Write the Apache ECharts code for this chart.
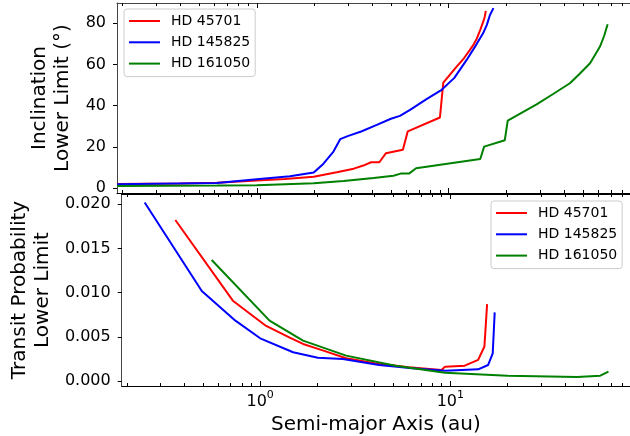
<!DOCTYPE html>
<html>
<head>
<meta charset="utf-8">
<script src="https://cdn.jsdelivr.net/npm/echarts@6/dist/echarts.min.js"></script>
<style>
  html, body { margin: 0; padding: 0; background: #fff; }
  #chart { width: 630px; height: 436px; }
</style>
</head>
<body>
<div id="chart"></div>
<script>
// Star names (legend / series names)
const starNames = ['HD 45701', 'HD 145825', 'HD 161050'];
const starColors = ['#ff0000', '#0000ff', '#008000'];

// Upper panel: inclination lower limit (deg) vs semi-major axis (au)
const inclA_45701 = [0.187, 0.4, 0.62, 1.0, 1.4, 1.98, 2.61, 3.2, 3.59, 3.94, 4.35, 4.71, 5.77, 6.12, 9.0, 9.37, 10.0, 11.0, 12.0, 12.9, 13.5, 14.0, 14.6, 15.1, 15.4, 15.6];
const inclV_45701 = [2.1, 2.3, 2.7, 3.7, 4.5, 5.6, 7.8, 9.5, 11.0, 12.6, 12.6, 17.0, 18.7, 27.6, 34.3, 51.2, 54.4, 59.0, 63.0, 67.1, 69.8, 72.5, 76.8, 80.5, 83.0, 86.0];
const inclA_145825 = [0.187, 0.62, 1.0, 1.49, 1.98, 2.22, 2.51, 2.72, 3.0, 3.5, 4.22, 5.0, 5.57, 6.29, 7.7, 9.19, 10.7, 12.4, 14.0, 15.1, 15.8, 16.4, 17.1];
const inclV_145825 = [2.0, 2.6, 4.4, 5.8, 7.6, 11.8, 17.8, 23.8, 25.4, 27.5, 30.7, 33.7, 35.1, 38.0, 43.3, 47.7, 53.5, 62.2, 70.0, 75.1, 79.2, 84.0, 87.3];
const inclA_161050 = [0.187, 0.62, 1.0, 1.98, 2.83, 4.06, 5.15, 5.62, 6.21, 6.76, 14.6, 15.3, 19.6, 20.3, 28.7, 35.0, 42.8, 48.0, 54.5, 61.4, 64.5, 67.3];
const inclV_161050 = [1.1, 1.3, 1.5, 2.4, 3.5, 5.0, 6.1, 7.1, 7.1, 9.7, 14.2, 20.2, 23.3, 32.8, 40.7, 45.7, 50.9, 55.4, 60.6, 68.7, 73.8, 79.5];

// Lower panel: transit probability lower limit vs semi-major axis (au)
const probA_45701 = [0.358, 0.718, 1.075, 1.43, 1.68, 2.15, 2.83, 4.0, 6.04, 9.0, 9.37, 11.9, 14.0, 15.1, 15.6];
const probV_45701 = [0.01823, 0.00909, 0.00623, 0.0049, 0.00419, 0.00343, 0.00257, 0.0020, 0.00155, 0.00125, 0.00162, 0.00173, 0.00238, 0.0039, 0.0087];
const probA_145825 = [0.247, 0.493, 0.741, 1.0, 1.49, 2.01, 2.72, 4.22, 6.3, 9.37, 14.0, 15.8, 16.7, 17.1];
const probV_145825 = [0.0202, 0.01019, 0.00683, 0.00483, 0.00325, 0.00264, 0.00249, 0.00181, 0.00145, 0.00117, 0.00132, 0.00181, 0.00313, 0.00777];
const probA_161050 = [0.556, 1.12, 1.68, 2.83, 5.15, 9.37, 20.0, 46.4, 61.4, 67.8];
const probV_161050 = [0.0137, 0.00683, 0.00457, 0.00287, 0.00173, 0.00094, 0.0006, 0.00045, 0.0006, 0.00105];

// Axis ticks
const xMajorTicks = [1, 10];
const xMinorTicks = [0.2, 0.3, 0.4, 0.5, 0.6, 0.7, 0.8, 0.9, 2, 3, 4, 5, 6, 7, 8, 9, 20, 30, 40, 50, 60, 70, 80];
const inclTicks = [0, 20, 40, 60, 80];
const probTicks = [0, 0.005, 0.010, 0.015, 0.020];

const X_MIN = 0.187, X_MAX = 88;
const FONT = 'DejaVu Sans';

function zip(a, v) { return a.map((x, i) => [x, v[i]]); }

function makeXAxis(gridIndex, position, ticks, tickLen, showLine, labels) {
  const ax = {
    type: 'log', logBase: 10, gridIndex: gridIndex, position: position,
    min: X_MIN, max: X_MAX,
    axisLine: { show: showLine, onZero: false, lineStyle: { color: '#000', width: 1 } },
    axisTick: { show: true, inside: true, length: tickLen, customValues: ticks, lineStyle: { color: '#000', width: 1 } },
    axisLabel: { show: false },
    splitLine: { show: false },
    minorTick: { show: false }, minorSplitLine: { show: false }
  };
  if (labels) {
    ax.axisLabel = {
      show: true, customValues: ticks, margin: 4, color: '#000', fontFamily: FONT,
      formatter: function (v) { return '{b|10}{s|' + Math.round(Math.log10(v)) + '}'; },
      rich: {
        b: { fontSize: 16, fontFamily: FONT, color: '#000', lineHeight: 20, verticalAlign: 'bottom' },
        s: { fontSize: 11, fontFamily: FONT, color: '#000', lineHeight: 20, verticalAlign: 'top', padding: [0, 0, 8, 0] }
      }
    };
    ax.name = 'Semi-major Axis (au)';
    ax.nameLocation = 'middle';
    ax.nameGap = 29;
    ax.nameTextStyle = { fontSize: 20, fontFamily: FONT, color: '#000' };
  }
  return ax;
}

const xAxes = [
  makeXAxis(0, 'bottom', xMajorTicks, 5, true, false),
  makeXAxis(0, 'bottom', xMinorTicks, 3, false, false),
  makeXAxis(0, 'top', xMajorTicks, 5, true, false),
  makeXAxis(0, 'top', xMinorTicks, 3, false, false),
  makeXAxis(1, 'bottom', xMajorTicks, 5, true, true),
  makeXAxis(1, 'bottom', xMinorTicks, 3, false, false),
  makeXAxis(1, 'top', xMajorTicks, 5, true, false),
  makeXAxis(1, 'top', xMinorTicks, 3, false, false)
];
xAxes[2].axisLine.lineStyle.color = '#444';

const yAxes = [
  {
    type: 'value', gridIndex: 0, min: -2.3, max: 89.8,
    name: 'Inclination\nLower Limit (°)', nameLocation: 'middle', nameGap: 34,
    nameTextStyle: { fontSize: 20, fontFamily: FONT, color: '#000', lineHeight: 23 },
    axisLine: { show: true, onZero: false, lineStyle: { color: '#444', width: 1 } },
    axisTick: { show: true, inside: false, length: 4, customValues: inclTicks, lineStyle: { color: '#000' } },
    axisLabel: { show: true, customValues: inclTicks, margin: 11, fontSize: 16, fontFamily: FONT, color: '#000' },
    splitLine: { show: false }
  },
  {
    type: 'value', gridIndex: 1, min: -0.00057, max: 0.02117,
    name: 'Transit Probability\nLower Limit', nameLocation: 'middle', nameGap: 64,
    nameTextStyle: { fontSize: 20, fontFamily: FONT, color: '#000', lineHeight: 23 },
    axisLine: { show: true, onZero: false, lineStyle: { color: '#444', width: 1 } },
    axisTick: { show: true, inside: false, length: 4, customValues: probTicks, lineStyle: { color: '#000' } },
    axisLabel: { show: true, customValues: probTicks, margin: 11, fontSize: 16, fontFamily: FONT, color: '#000',
      formatter: function (v) { return v.toFixed(3); } },
    splitLine: { show: false }
  }
];

function lineSeries(name, color, xIdx, yIdx, data) {
  return {
    type: 'line', name: name, xAxisIndex: xIdx, yAxisIndex: yIdx, data: data,
    symbol: 'none', showSymbol: false, clip: true, animation: false,
    lineStyle: { color: color, width: 2 }, itemStyle: { color: color }
  };
}

const series = [
  lineSeries(starNames[0], starColors[0], 0, 0, zip(inclA_45701, inclV_45701)),
  lineSeries(starNames[1], starColors[1], 0, 0, zip(inclA_145825, inclV_145825)),
  lineSeries(starNames[2], starColors[2], 0, 0, zip(inclA_161050, inclV_161050)),
  lineSeries(starNames[0], starColors[0], 4, 1, zip(probA_45701, probV_45701)),
  lineSeries(starNames[1], starColors[1], 4, 1, zip(probA_145825, probV_145825)),
  lineSeries(starNames[2], starColors[2], 4, 1, zip(probA_161050, probV_161050))
];

function legendBox(left, top) {
  return {
    data: starNames, orient: 'vertical', left: left, top: top,
    icon: 'rect', itemWidth: 31, itemHeight: 2, itemGap: 5.3,
    padding: [4, 5, 5, 5],
    backgroundColor: 'rgba(255,255,255,0.8)', borderColor: '#cccccc', borderWidth: 1, borderRadius: 3,
    textStyle: { fontSize: 14, fontFamily: FONT, color: '#000', lineHeight: 16, padding: [0, 0, 0, 6] },
    selectedMode: false
  };
}

const chart = echarts.init(document.getElementById('chart'), null, { renderer: 'canvas' });
chart.setOption({
  backgroundColor: '#fff',
  animation: false,
  grid: [
    { left: 117, right: 0, top: 3, height: 190 },
    { left: 117, right: 0, top: 194, height: 192 }
  ],
  legend: [legendBox(124, 9), legendBox(491, 201)],
  xAxis: xAxes,
  yAxis: yAxes,
  series: series
});
</script>
</body>
</html>
